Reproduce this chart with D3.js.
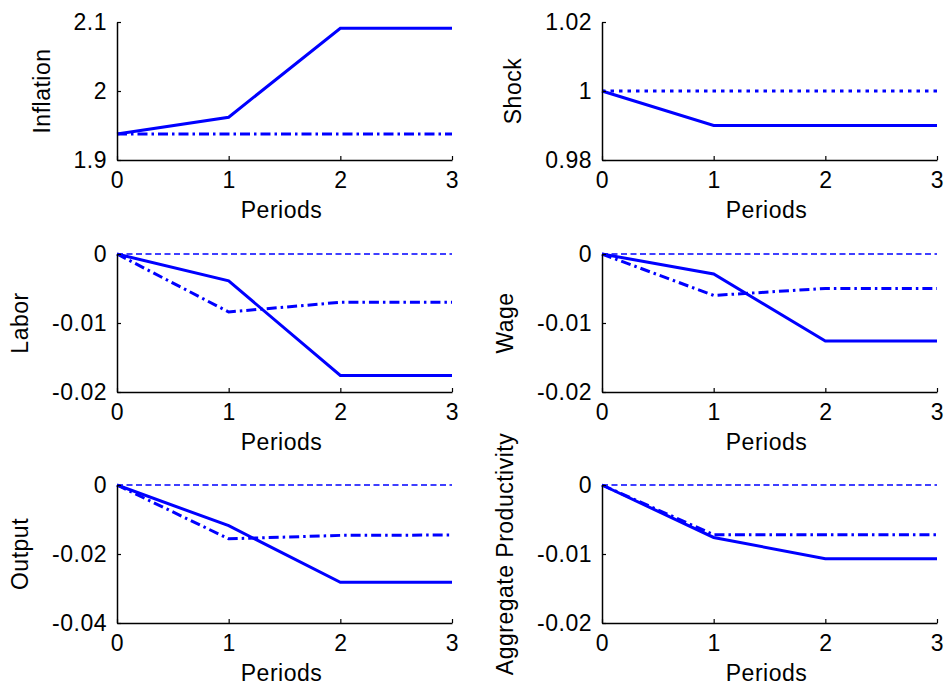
<!DOCTYPE html>
<html>
<head>
<meta charset="utf-8">
<script src="https://cdn.jsdelivr.net/npm/d3@7"></script>
<style>
  body { margin: 0; background: #fff; }
  text { font-family: "Liberation Sans", Arial, sans-serif; letter-spacing: 0.5px; }
</style>
</head>
<body>
<svg id="chart" width="948" height="685"></svg>
<script>
// impulse responses, periods 0..3
const periods = [0, 1, 2, 3];

const inflation    = [1.9376, 1.962, 2.091, 2.091];
const inflationAlt = [1.9376, 1.9376, 1.9376, 1.9376];

const shock     = [1, 0.99, 0.99, 0.99];
const shockBase = [1, 1, 1, 1];

const labor    = [0, -0.0039, -0.0176, -0.0176];
const laborAlt = [0, -0.0084, -0.0070, -0.0070];

const wage    = [0, -0.0029, -0.0126, -0.0126];
const wageAlt = [0, -0.0060, -0.0050, -0.0050];

const output    = [0, -0.0118, -0.0282, -0.0282];
const outputAlt = [0, -0.0156, -0.0146, -0.0145];

const productivity    = [0, -0.0076, -0.0107, -0.0107];
const productivityAlt = [0, -0.0072, -0.0072, -0.0072];

const zeroLine = [0, 0, 0, 0];

const panels = [
  { label: "Inflation", yTicks: [1.9, 2, 2.1], solid: inflation, dashDot: inflationAlt },
  { label: "Shock", yTicks: [0.98, 1, 1.02], solid: shock, dotted: shockBase },
  { label: "Labor", yTicks: [-0.02, -0.01, 0], solid: labor, dashDot: laborAlt, zero: zeroLine },
  { label: "Wage", yTicks: [-0.02, -0.01, 0], solid: wage, dashDot: wageAlt, zero: zeroLine },
  { label: "Output", yTicks: [-0.04, -0.02, 0], solid: output, dashDot: outputAlt, zero: zeroLine },
  { label: "Aggregate Productivity", yTicks: [-0.02, -0.01, 0], solid: productivity, dashDot: productivityAlt, zero: zeroLine }
];

// layout
const colX = [117, 602];
const rowY = [22, 254, 485];
const W = 335, H = 138;
const blue = "#0000ff";
const fontSize = 23;

const svg = d3.select("#chart");

panels.forEach((p, i) => {
  const g = svg.append("g")
    .attr("transform", `translate(${colX[i % 2]},${rowY[Math.floor(i / 2)]})`);

  const x = d3.scaleLinear().domain(d3.extent(periods)).range([0, W]);
  const y = d3.scaleLinear().domain(d3.extent(p.yTicks)).range([H, 0]);

  const line = d3.line()
    .x((d, j) => x(periods[j]))
    .y(d => y(d));

  // series
  g.append("path")
    .attr("d", line(p.solid))
    .attr("fill", "none")
    .attr("stroke", blue)
    .attr("stroke-width", 3);

  if (p.dashDot) {
    g.append("path")
      .attr("d", line(p.dashDot))
      .attr("fill", "none")
      .attr("stroke", blue)
      .attr("stroke-width", 3)
      .attr("stroke-dasharray", "10,4,2.5,4");
  }
  if (p.dotted) {
    g.append("path")
      .attr("d", line(p.dotted))
      .attr("fill", "none")
      .attr("stroke", blue)
      .attr("stroke-width", 3)
      .attr("stroke-dasharray", "3.5,5");
  }
  if (p.zero) {
    g.append("path")
      .attr("d", line(p.zero))
      .attr("fill", "none")
      .attr("stroke", blue)
      .attr("stroke-width", 1.4)
      .attr("stroke-dasharray", "6,3.5");
  }

  // axes
  const gx = g.append("g")
    .attr("transform", `translate(0,${H})`)
    .call(d3.axisBottom(x)
      .tickValues(periods)
      .tickSizeInner(-4)
      .tickSizeOuter(0)
      .tickPadding(12)
      .tickFormat(d3.format("d")));

  const gy = g.append("g")
    .call(d3.axisLeft(y)
      .tickValues(p.yTicks)
      .tickSizeInner(-4)
      .tickSizeOuter(0)
      .tickPadding(10)
      .tickFormat(d => String(d)));

  [gx, gy].forEach(a => {
    a.attr("font-size", fontSize);
    a.select(".domain").attr("stroke", "#000").attr("stroke-width", 1.5);
    a.selectAll(".tick line").attr("stroke", "#000").attr("stroke-width", 1.2);
    a.selectAll(".tick text").attr("fill", "#000");
  });

  // axis titles
  g.append("text")
    .attr("x", W / 2 - 3)
    .attr("y", H + 58)
    .attr("text-anchor", "middle")
    .attr("font-size", fontSize)
    .text("Periods");

  const tickW = d3.max(gy.selectAll(".tick text").nodes(), n => n.getBBox().width);
  g.append("text")
    .attr("transform", `translate(${-10 - tickW - 24},${H / 2}) rotate(-90)`)
    .attr("text-anchor", "middle")
    .attr("font-size", fontSize)
    .text(p.label);
});
</script>
</body>
</html>
